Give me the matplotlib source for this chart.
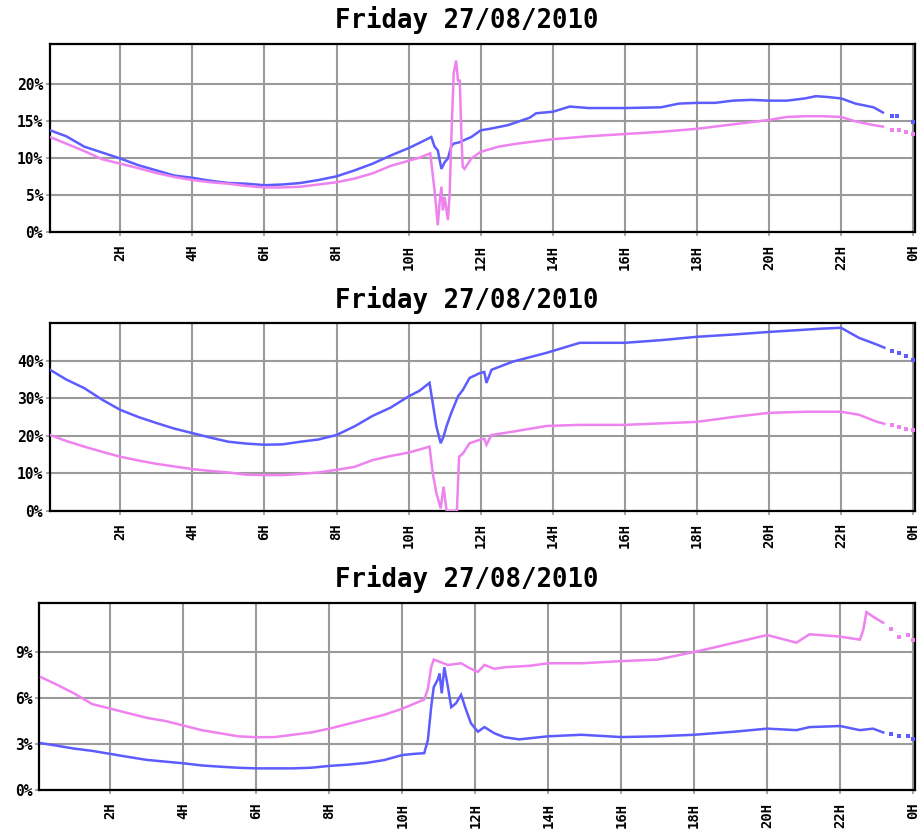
import matplotlib
matplotlib.use("Agg")
import matplotlib.pyplot as plt
import numpy as np

TITLE = "Friday 27/08/2010"
BLUE = "#5c5cff"
PINK = "#ee82ee"
TAIL_START = 23.25  # after this time the logger only has sparse points

X_TICKS = [2, 4, 6, 8, 10, 12, 14, 16, 18, 20, 22, 24]
X_TICK_LABELS = ["2H", "4H", "6H", "8H", "10H", "12H", "14H", "16H", "18H", "20H", "22H", "0H"]

# panel 1
P1_BLUE_H = [0.05, 0.5, 1, 1.5, 2, 2.5, 3, 3.5, 4, 4.5, 5, 5.5, 6, 6.5, 7, 7.5, 8, 8.5, 9, 9.5,
             10, 10.3, 10.63, 10.72, 10.81, 10.91, 11.0, 11.09, 11.18, 11.25, 11.42, 11.55, 11.74,
             12.0, 12.25, 12.76, 13.36, 13.54, 14.0, 14.47, 15, 16, 17, 17.5, 18, 18.5, 19, 19.5,
             20, 20.5, 21, 21.3, 21.6, 22, 22.4, 22.9, 23.16, 23.4, 23.55, 24.0]
P1_BLUE = [13.7, 12.9, 11.5, 10.7, 9.9, 9.0, 8.3, 7.6, 7.3, 6.9, 6.6, 6.5, 6.3, 6.4, 6.6, 7.0, 7.5,
           8.3, 9.2, 10.3, 11.3, 12.0, 12.8, 11.5, 11.0, 8.5, 9.4, 9.9, 11.5, 11.9, 12.1, 12.4, 12.8,
           13.7, 13.9, 14.4, 15.4, 16.0, 16.2, 16.9, 16.7, 16.7, 16.8, 17.3, 17.4, 17.4, 17.7, 17.8,
           17.7, 17.7, 18.0, 18.3, 18.2, 18.0, 17.3, 16.8, 16.1, 15.6, 15.6, 14.8]
P1_PINK_H = [0.05, 0.5, 1, 1.5, 2, 2.5, 3, 3.5, 4, 4.5, 5, 5.5, 6, 6.5, 7, 7.5, 8, 8.5, 9, 9.5,
             10, 10.3, 10.6, 10.72, 10.81, 10.86, 10.91, 10.95, 11.0, 11.09, 11.14, 11.18, 11.25,
             11.32, 11.37, 11.42, 11.46, 11.5, 11.55, 11.74, 12.0, 12.5, 13, 13.5, 14, 14.5, 15,
             16, 17, 18, 19, 20, 20.5, 21, 21.5, 22, 22.4, 22.9, 23.16, 23.4, 23.6, 23.8, 24.0]
P1_PINK = [12.8, 11.9, 10.9, 9.8, 9.2, 8.6, 7.95, 7.4, 7.0, 6.7, 6.5, 6.2, 6.0, 6.0, 6.1, 6.4, 6.7,
           7.2, 7.9, 8.9, 9.6, 10.0, 10.6, 5.6, 0.9, 4.0, 6.1, 2.9, 4.7, 1.6, 5.2, 11.9, 21.4, 23.1,
           20.4, 20.4, 13.7, 8.8, 8.5, 9.9, 10.8, 11.5, 11.9, 12.2, 12.5, 12.7, 12.9, 13.2, 13.5,
           13.9, 14.5, 15.1, 15.5, 15.6, 15.6, 15.5, 14.9, 14.4, 14.2, 13.8, 13.8, 13.5, 13.2]

# panel 2
P2_BLUE_H = [0.05, 0.5, 1, 1.5, 2, 2.5, 3, 3.5, 4, 4.5, 5, 5.5, 6, 6.5, 7, 7.5, 8, 8.5, 9, 9.5,
             10, 10.3, 10.58, 10.67, 10.77, 10.89, 10.97, 11.05, 11.18, 11.37, 11.51, 11.69, 11.97,
             12.1, 12.16, 12.3, 12.9, 13.82, 14.75, 15.5, 16, 17, 18, 19, 20, 21, 21.5, 22, 22.5,
             23, 23.2, 23.4, 23.6, 23.8, 24.0]
P2_BLUE = [37.6, 35.0, 32.7, 29.6, 26.9, 25.0, 23.4, 21.9, 20.7, 19.5, 18.4, 17.9, 17.6, 17.7, 18.4,
           19.0, 20.2, 22.5, 25.3, 27.5, 30.5, 32.0, 34.1, 28.7, 22.5, 18.0, 19.8, 22.5, 26.0, 30.5,
           32.3, 35.4, 36.7, 37.0, 34.1, 37.6, 39.8, 42.1, 44.8, 44.8, 44.8, 45.5, 46.4, 47.0, 47.7,
           48.3, 48.6, 48.8, 46.1, 44.3, 43.5, 42.6, 42.0, 41.2, 40.3]
P2_PINK_H = [0.05, 0.5, 1, 1.5, 2, 2.5, 3, 3.5, 4, 4.5, 5, 5.5, 6, 6.5, 7, 7.5, 8, 8.5, 9, 9.5,
             10, 10.3, 10.58, 10.67, 10.77, 10.89, 10.97, 11.05, 11.1, 11.34, 11.4, 11.51, 11.69,
             11.97, 12.1, 12.16, 12.3, 12.9, 13.82, 14.75, 16, 17, 18, 19, 20, 21, 22, 22.5, 23,
             23.2, 23.4, 23.6, 23.8, 24.0]
P2_PINK = [20.2, 18.6, 17.1, 15.7, 14.4, 13.4, 12.5, 11.8, 11.1, 10.6, 10.2, 9.6, 9.5, 9.5, 9.8,
           10.2, 10.9, 11.7, 13.5, 14.6, 15.5, 16.3, 17.1, 10.0, 4.7, 0.6, 6.4, 0.2, 0.0, 0.0, 14.4,
           15.3, 18.0, 18.9, 19.2, 17.6, 20.2, 21.1, 22.6, 22.9, 22.9, 23.3, 23.7, 25.0, 26.1, 26.4,
           26.4, 25.6, 23.7, 23.2, 22.8, 22.3, 21.9, 21.4]

# panel 3
P3_BLUE_H = [0.1, 0.5, 1, 1.5, 2, 2.5, 3, 3.5, 4, 4.5, 5, 5.5, 6, 6.5, 7, 7.5, 8, 8.5, 9, 9.5,
             10, 10.3, 10.6, 10.7, 10.79, 10.86, 10.97, 11.02, 11.08, 11.15, 11.25, 11.34, 11.47,
             11.61, 11.75, 11.88, 12.07, 12.25, 12.52, 12.8, 13.2, 14, 14.9, 16, 17, 18, 19.1, 20,
             20.8, 21.16, 22, 22.54, 22.9, 23.18, 23.4, 23.6, 23.85, 24.0]
P3_BLUE = [3.05, 2.9, 2.7, 2.55, 2.35, 2.15, 1.96, 1.85, 1.74, 1.6, 1.52, 1.45, 1.41, 1.41, 1.41,
           1.45, 1.57, 1.65, 1.76, 1.95, 2.28, 2.35, 2.4, 3.26, 5.4, 6.7, 7.2, 7.6, 6.3, 8.0, 6.7,
           5.4, 5.65, 6.2, 5.2, 4.35, 3.8, 4.1, 3.7, 3.44, 3.3, 3.5, 3.6, 3.45, 3.5, 3.6, 3.8, 4.0,
           3.9, 4.1, 4.17, 3.9, 4.0, 3.75, 3.65, 3.5, 3.5, 3.33]
P3_PINK_H = [0.1, 0.5, 1, 1.5, 2, 2.5, 3, 3.5, 4, 4.5, 5, 5.5, 6, 6.5, 7, 7.5, 8, 8.5, 9, 9.5,
             10, 10.3, 10.6, 10.7, 10.79, 10.86, 10.97, 11.25, 11.61, 11.88, 12.07, 12.25, 12.52,
             12.8, 13.5, 14, 14.9, 16, 17, 18, 18.2, 19.1, 20, 20.8, 21.16, 22, 22.54, 22.63, 22.72,
             22.9, 23.18, 23.4, 23.6, 23.85, 24.0]
P3_PINK = [7.35, 6.9, 6.3, 5.6, 5.3, 5.0, 4.7, 4.5, 4.2, 3.9, 3.7, 3.5, 3.44, 3.45, 3.6, 3.75, 4.0,
           4.3, 4.6, 4.9, 5.3, 5.6, 5.9, 6.6, 8.0, 8.5, 8.4, 8.15, 8.26, 7.9, 7.7, 8.15, 7.9, 8.0,
           8.1, 8.26, 8.26, 8.4, 8.5, 9.0, 9.1, 9.6, 10.1, 9.6, 10.15, 10.0, 9.8, 10.4, 11.6, 11.3,
           10.9, 10.5, 9.96, 10.1, 9.8]

PANELS = [
    # (series, y ticks, y max, axes rect)
    ([(P1_BLUE_H, P1_BLUE, BLUE), (P1_PINK_H, P1_PINK, PINK)], [0, 5, 10, 15, 20], 25.4,
     [0.0542, 0.7222, 0.9371, 0.2257]),
    ([(P2_BLUE_H, P2_BLUE, BLUE), (P2_PINK_H, P2_PINK, PINK)], [0, 10, 20, 30, 40], 50.0,
     [0.0542, 0.3884, 0.9371, 0.2244]),
    ([(P3_BLUE_H, P3_BLUE, BLUE), (P3_PINK_H, P3_PINK, PINK)], [0, 3, 6, 9], 12.17,
     [0.0426, 0.0539, 0.9487, 0.2236]),
]
TITLE_Y = [0.976, 0.641, 0.306]

MONO = "DejaVu Sans Mono"


def draw_panel(ax, series, yticks, ymax):
    for hours, values, color in series:
        h = np.asarray(hours)
        v = np.asarray(values)
        body = h <= TAIL_START
        ax.plot(h[body], v[body], color=color, lw=1.8, solid_joinstyle="miter", zorder=3)
        ax.plot(h[~body], v[~body], ls="none", marker="s", ms=2.2, color=color, mew=0, zorder=3)
    ax.set_xlim(0.05, 24.05)
    ax.set_ylim(0, ymax)
    ax.set_xticks(X_TICKS)
    ax.set_xticklabels(X_TICK_LABELS, rotation=90, family=MONO, fontweight="bold", fontsize=10)
    ax.set_yticks(yticks)
    ax.set_yticklabels([f"{t}%" for t in yticks], family=MONO, fontweight="bold", fontsize=10.5)
    ax.grid(True, color="#9a9a9a", lw=1.5)
    ax.set_axisbelow(True)
    ax.tick_params(axis="both", length=3, width=1.2, color="#9a9a9a", pad=2)
    ax.tick_params(axis="x", pad=6)
    for spine in ax.spines.values():
        spine.set_linewidth(1.6)
        spine.set_color("black")


def main():
    fig = plt.figure(figsize=(9.23, 8.35), dpi=100)
    for (series, yticks, ymax, rect), ty in zip(PANELS, TITLE_Y):
        ax = fig.add_axes(rect)
        draw_panel(ax, series, yticks, ymax)
        fig.text(467 / 923, ty, TITLE, ha="center", va="center", family=MONO,
                 fontweight="bold", fontsize=18.5)
    fig.savefig("out.png", dpi=100)


if __name__ == "__main__":
    main()
